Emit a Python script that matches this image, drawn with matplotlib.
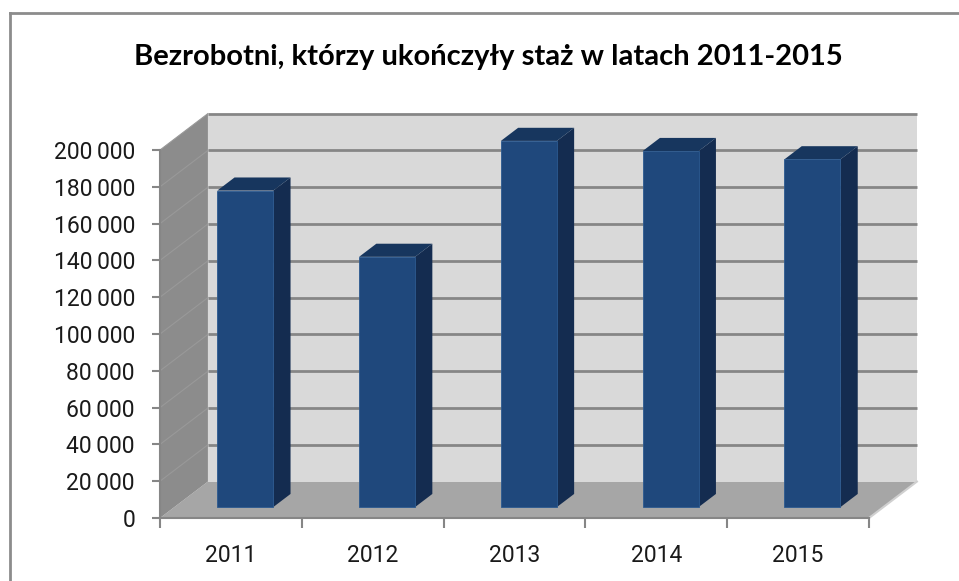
import matplotlib
matplotlib.use("Agg")
import matplotlib.pyplot as plt
from matplotlib.patches import Polygon
from matplotlib.lines import Line2D
from matplotlib.ticker import FuncFormatter, MultipleLocator

plt.rcParams["font.family"] = ["Roboto", "DejaVu Sans"]

# data
years = ["2011", "2012", "2013", "2014", "2015"]
values = [172000, 136000, 199000, 193500, 189000]
y_max = 200000
y_step = 20000

# colours (Excel 2007 3D style)
c_front = "#1f487c"
c_side = "#142c50"
c_top = "#17365e"
c_back = "#d9d9d9"
c_floor = "#a6a6a6"
c_wall = "#8c8c8c"
c_grid = "#868686"

# fake depth (oblique projection) in data units
DX, DY = 0.338, 19800
f0, f1 = 0.30, 0.66      # bar front / back depth
bw = 0.395               # bar width

fig = plt.figure(figsize=(9.59, 5.81), dpi=100)
ax = fig.add_axes([160 / 959, 63 / 581, 709 / 959, 368 / 581])
n = len(years)
x0, x1 = -0.5, n - 0.5
ax.set_xlim(x0, x1)
ax.set_ylim(0, y_max)
ax.patch.set_visible(False)

# walls
floor = Polygon([(x0, 0), (x1, 0), (x1 + DX, DY), (x0 + DX, DY)],
                closed=True, fc=c_floor, ec="none", zorder=1, clip_on=False)
left = Polygon([(x0, 0), (x0 + DX, DY), (x0 + DX, y_max + DY), (x0, y_max)],
               closed=True, fc=c_wall, ec="none", zorder=1, clip_on=False)
back = Polygon([(x0 + DX, DY), (x1 + DX, DY), (x1 + DX, y_max + DY), (x0 + DX, y_max + DY)],
               closed=True, fc=c_back, ec="none", zorder=1, clip_on=False)
for p in (floor, left, back):
    ax.add_patch(p)

# gridlines on back wall + faint ones on the side wall
for v in range(y_step, y_max + 1, y_step):
    ax.plot([x0 + DX, x1 + DX], [v + DY, v + DY], color=c_grid, lw=2,
            zorder=2, clip_on=False, solid_capstyle="butt")
    ax.plot([x0, x0 + DX], [v, v + DY], color="#999999", lw=0.8,
            zorder=2, clip_on=False)
# floor right edge highlight
ax.plot([x1, x1 + DX], [0, DY], color="#d0d0d0", lw=1.5, zorder=2, clip_on=False)

# bars
for i, v in enumerate(values):
    xl = i - bw / 2 + f0 * DX
    xr = i + bw / 2 + f0 * DX
    yb = f0 * DY
    ddx = (f1 - f0) * DX
    ddy = (f1 - f0) * DY
    front = Polygon([(xl, yb), (xr, yb), (xr, v + yb), (xl, v + yb)],
                    closed=True, fc=c_front, ec="#2c5a90", lw=0.6, zorder=5, clip_on=False)
    side = Polygon([(xr, yb), (xr + ddx, yb + ddy), (xr + ddx, v + yb + ddy), (xr, v + yb)],
                   closed=True, fc=c_side, ec="none", zorder=5, clip_on=False)
    top = Polygon([(xl, v + yb), (xr, v + yb), (xr + ddx, v + yb + ddy), (xl + ddx, v + yb + ddy)],
                  closed=True, fc=c_top, ec="none", zorder=5, clip_on=False)
    for p in (side, top, front):
        ax.add_patch(p)

# axes
for s in ("top", "right"):
    ax.spines[s].set_visible(False)
for s in ("left", "bottom"):
    ax.spines[s].set_color(c_grid)
    ax.spines[s].set_linewidth(1.5)
    ax.spines[s].set_zorder(3)

ax.yaxis.set_major_locator(MultipleLocator(y_step))
ax.yaxis.set_major_formatter(FuncFormatter(lambda v, p: f"{int(v):,}".replace(",", "\u2009")))
ax.tick_params(axis="y", direction="out", length=6, width=1.5, color=c_grid,
               labelsize=16.5, labelcolor="#1a1a1a", pad=12)

ax.set_xticks(range(n))
ax.set_xticklabels(years)
ax.set_xticks([i - 0.5 for i in range(n + 1)], minor=True)
ax.tick_params(axis="x", which="major", length=0, labelsize=16.5, labelcolor="#1a1a1a", pad=19)
ax.tick_params(axis="x", which="minor", direction="out", length=7, width=1.5, color=c_grid)

fig.text(488 / 959, 1 - 57 / 581, "Bezrobotni, którzy ukończyły staż w latach 2011-2015",
         ha="center", va="center", fontsize=21, fontweight="bold", color="#000000",
         family=["Lato", "DejaVu Sans"])

# chart border
fig.add_artist(Line2D([10 / 959, 10 / 959], [0, 1 - 13 / 581], transform=fig.transFigure,
                      color="#8c8c8c", lw=2))
fig.add_artist(Line2D([10 / 959, 1], [1 - 13 / 581, 1 - 13 / 581], transform=fig.transFigure,
                      color="#8c8c8c", lw=2))

fig.savefig("out.png", dpi=100)
